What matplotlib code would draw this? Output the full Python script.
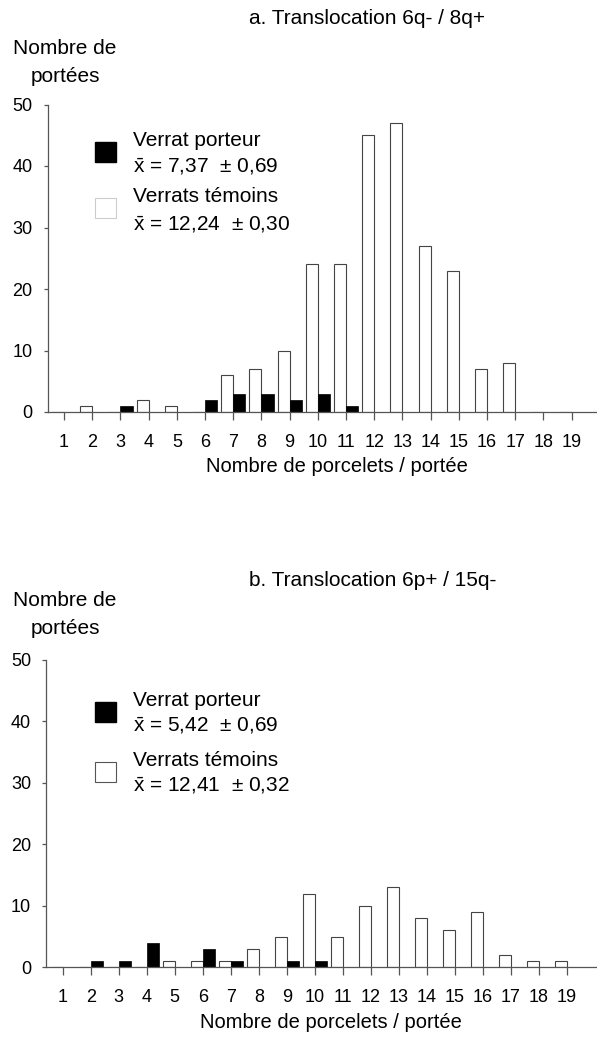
import matplotlib
matplotlib.use('Agg')
from matplotlib import pyplot as plt
from matplotlib.patches import Rectangle

plt.rcParams['font.family'] = ['Liberation Sans', 'DejaVu Sans']
plt.rcParams['mathtext.default'] = 'regular'

# number of piglets per litter
porcelets = list(range(1, 20))

# a. Translocation 6q- / 8q+
a_temoins = [0, 1, 0, 2, 1, 0, 6, 7, 10, 24, 24, 45, 47, 27, 23, 7, 8, 0, 0]
a_porteur = [0, 0, 1, 0, 0, 2, 3, 3, 2, 3, 1, 0, 0, 0, 0, 0, 0, 0, 0]

# b. Translocation 6p+ / 15q-
b_temoins = [0, 0, 0, 0, 1, 1, 1, 3, 5, 12, 5, 10, 13, 8, 6, 9, 2, 1, 1]
b_porteur = [0, 1, 1, 4, 0, 3, 1, 0, 1, 1, 0, 0, 0, 0, 0, 0, 0, 0, 0]

yticks = [0, 10, 20, 30, 40, 50]

W, H = 597, 1043
LINE = '#555555'
BAR_W = 0.43


def fx(px):
    return px / W


def fy(py):
    return 1 - py / H


def draw_panel(ax, temoins, porteur, xlim):
    x_t = [x - BAR_W for x in porcelets]
    ax.bar(x_t, temoins, width=BAR_W, align='edge', color='white',
           edgecolor='#444444', linewidth=0.8)
    ax.bar(porcelets, porteur, width=BAR_W, align='edge', color='black',
           edgecolor='black', linewidth=0.5)
    ax.set_xlim(*xlim)
    ax.set_ylim(0, 50)
    ax.set_xticks(porcelets)
    ax.set_yticks(yticks)
    for s in ['top', 'right']:
        ax.spines[s].set_visible(False)
    for s in ['left', 'bottom']:
        ax.spines[s].set_color(LINE)
        ax.spines[s].set_linewidth(0.9)
    ax.tick_params(axis='x', direction='out', length=5.5, width=0.9,
                   color=LINE, labelsize=13, pad=10)
    ax.tick_params(axis='y', direction='out', length=3, width=0.9,
                   color=LINE, labelsize=13, pad=8)


def legend(sq_port, sq_tem, lines, txt_port, txt_tem, faint):
    fig.add_artist(Rectangle((fx(95), fy(sq_port + 10)), 21 / W, 20 / H,
                             transform=fig.transFigure, facecolor='black',
                             edgecolor='black'))
    fig.add_artist(Rectangle((fx(95), fy(sq_tem + 10)), 21 / W, 20 / H,
                             transform=fig.transFigure, facecolor='white',
                             edgecolor='#cccccc' if faint else '#555555',
                             linewidth=0.8))
    texts = ['Verrat porteur', txt_port, 'Verrats témoins', txt_tem]
    for y, s in zip(lines, texts):
        fig.text(fx(133), fy(y), s, fontsize=15, va='center')


fig = plt.figure(figsize=(W / 100, H / 100), dpi=100)

ax_a = fig.add_axes([fx(48), fy(412), 1 - fx(48), (412 - 104.5) / H])
draw_panel(ax_a, a_temoins, a_porteur, (0.43, 19.9))

ax_b = fig.add_axes([fx(46.4), fy(967.3), 1 - fx(46.4), (967.3 - 660) / H])
draw_panel(ax_b, b_temoins, b_porteur, (0.414, 20.08))

# titles and axis labels
fig.text(fx(249), fy(18), 'a. Translocation 6q- / 8q+', fontsize=15, va='center')
fig.text(fx(65), fy(49), 'Nombre de', fontsize=15, va='center', ha='center')
fig.text(fx(65), fy(77), 'portées', fontsize=15, va='center', ha='center')
fig.text(fx(337), fy(467), 'Nombre de porcelets / portée', fontsize=14.5,
         va='center', ha='center')

fig.text(fx(249), fy(581), 'b. Translocation 6p+ / 15q-', fontsize=15, va='center')
fig.text(fx(65), fy(601), 'Nombre de', fontsize=15, va='center', ha='center')
fig.text(fx(65), fy(629), 'portées', fontsize=15, va='center', ha='center')
fig.text(fx(331), fy(1022), 'Nombre de porcelets / portée', fontsize=14.5,
         va='center', ha='center')

legend(152, 208, [140, 167, 196, 225],
       r'$\bar{x}$ = 7,37  ± 0,69', r'$\bar{x}$ = 12,24  ± 0,30', True)
legend(712, 772, [700, 726, 761, 786],
       r'$\bar{x}$ = 5,42  ± 0,69', r'$\bar{x}$ = 12,41  ± 0,32', False)

fig.savefig('out.png', dpi=100)
